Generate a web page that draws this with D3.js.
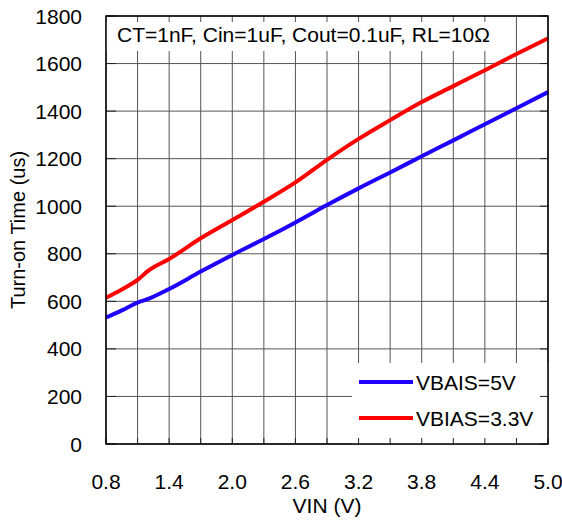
<!DOCTYPE html>
<html>
<head>
<meta charset="utf-8">
<script src="https://cdn.jsdelivr.net/npm/d3@7"></script>
<style>
  body { margin: 0; background: #fff; }
  svg text { font-family: "Liberation Sans", Arial, sans-serif; fill: #000; }
</style>
</head>
<body>
<div id="chart"></div>
<script>
// values
const vin = [0.8, 0.95, 1.1, 1.2, 1.4, 1.7, 2.0, 2.3, 2.6, 2.9, 3.2, 3.5, 3.8, 4.1, 4.4, 4.7, 5.0];
const vbias5 = [532, 562, 595, 610, 652, 725, 795, 862, 932, 1005, 1075, 1142, 1210, 1277, 1345, 1412, 1480];
const vbias33 = [615, 650, 690, 728, 778, 865, 942, 1019, 1100, 1195, 1283, 1362, 1438, 1505, 1572, 1640, 1706];
const xTicks = [0.8, 1.4, 2.0, 2.6, 3.2, 3.8, 4.4, 5.0];
const xGrid = [0.8, 1.1, 1.4, 1.7, 2.0, 2.3, 2.6, 2.9, 3.2, 3.5, 3.8, 4.1, 4.4, 4.7, 5.0];
const yTicks = [0, 200, 400, 600, 800, 1000, 1200, 1400, 1600, 1800];
const seriesNames = ["VBAIS=5V", "VBIAS=3.3V"];
const seriesColors = ["#1f00ff", "#ff0000"];
const note = "CT=1nF, Cin=1uF, Cout=0.1uF, RL=10\u03A9";

const width = 562, height = 521;
const margin = {top: 16, right: 14, bottom: 77, left: 106};
const iw = width - margin.left - margin.right;
const ih = height - margin.top - margin.bottom;

const svg = d3.select("#chart").append("svg")
    .attr("width", width)
    .attr("height", height);

const g = svg.append("g").attr("transform", `translate(${margin.left},${margin.top})`);

const x = d3.scaleLinear().domain([0.8, 5.0]).range([0, iw]);
const y = d3.scaleLinear().domain([0, 1800]).range([ih, 0]);

// grid
g.append("g").selectAll("line").data(xGrid).enter().append("line")
    .attr("x1", d => x(d)).attr("x2", d => x(d))
    .attr("y1", 0).attr("y2", ih)
    .attr("stroke", "#555").attr("stroke-width", 1);
g.append("g").selectAll("line").data(yTicks).enter().append("line")
    .attr("x1", 0).attr("x2", iw)
    .attr("y1", d => y(d)).attr("y2", d => y(d))
    .attr("stroke", "#555").attr("stroke-width", 1);

// white boxes behind the note and the legend
g.append("rect").attr("x", 0).attr("y", 6).attr("width", 406).attr("height", 29).attr("fill", "#fff");
g.append("rect").attr("x", 246).attr("y", 347).attr("width", iw - 246).attr("height", ih - 347).attr("fill", "#fff");

// inward ticks
g.append("g").selectAll("line").data(yTicks).enter().append("line")
    .attr("x1", 0).attr("x2", 10)
    .attr("y1", d => y(d)).attr("y2", d => y(d))
    .attr("stroke", "#222");
g.append("g").selectAll("line").data(yTicks).enter().append("line")
    .attr("x1", iw - 8).attr("x2", iw)
    .attr("y1", d => y(d)).attr("y2", d => y(d))
    .attr("stroke", "#222");
g.append("g").selectAll("line").data(xGrid).enter().append("line")
    .attr("x1", d => x(d)).attr("x2", d => x(d))
    .attr("y1", ih - 6).attr("y2", ih)
    .attr("stroke", "#222");

// series
const line = d3.line()
    .x((d, i) => x(vin[i]))
    .y(d => y(d))
    .curve(d3.curveMonotoneX);

[vbias5, vbias33].forEach((s, i) => {
    g.append("path")
        .attr("d", line(s))
        .attr("fill", "none")
        .attr("stroke", seriesColors[i])
        .attr("stroke-width", 4)
        .attr("stroke-linejoin", "round");
});

// border
g.append("rect").attr("width", iw).attr("height", ih)
    .attr("fill", "none").attr("stroke", "#000").attr("stroke-width", 1.5);

// axis labels
g.append("g").selectAll("text").data(yTicks).enter().append("text")
    .attr("x", -24).attr("y", d => y(d))
    .attr("dy", "0.36em")
    .attr("text-anchor", "end")
    .style("font-size", "21px")
    .text(d => d);
g.append("g").selectAll("text").data(xTicks).enter().append("text")
    .attr("x", d => x(d)).attr("y", ih + 45)
    .attr("text-anchor", "middle")
    .style("font-size", "21px")
    .text(d => d.toFixed(1));

g.append("text")
    .attr("x", iw / 2).attr("y", ih + 69)
    .attr("text-anchor", "middle")
    .style("font-size", "21px")
    .text("VIN (V)");

svg.append("text")
    .attr("transform", `translate(25,${margin.top + ih / 2}) rotate(-90)`)
    .attr("text-anchor", "middle")
    .style("font-size", "20px")
    .text("Turn-on Time (us)");

// note
g.append("text")
    .attr("x", 11).attr("y", 26)
    .style("font-size", "21px")
    .text(note);

// legend
const legend = g.append("g");
seriesNames.forEach((name, i) => {
    const ly = 366 + i * 36;
    legend.append("line")
        .attr("x1", 253).attr("x2", 307)
        .attr("y1", ly).attr("y2", ly)
        .attr("stroke", seriesColors[i]).attr("stroke-width", 4);
    legend.append("text")
        .attr("x", 310).attr("y", ly)
        .attr("dy", "0.36em")
        .style("font-size", "21px")
        .text(name);
});
</script>
</body>
</html>
